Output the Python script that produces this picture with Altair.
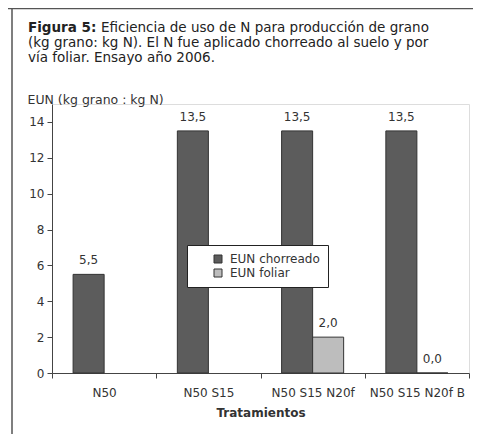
import altair as alt
import pandas as pd

# ---- data ----
categories = ["N50", "N50 S15", "N50 S15 N20f", "N50 S15 N20f B"]
series = ["EUN chorreado", "EUN foliar"]
chorreado = [5.5, 13.5, 13.5, 13.5]
foliar = [None, None, 2.0, 0.0]
y_ticks = [0, 2, 4, 6, 8, 10, 12, 14]

title_bold = "Figura 5:"
title_line1 = "Eficiencia de uso de N para producción de grano"
title_line2 = "(kg grano: kg N). El N fue aplicado chorreado al suelo y por"
title_line3 = "vía foliar. Ensayo año 2006."
y_title = "EUN (kg grano : kg N)"
x_title = "Tratamientos"

rows = []
for c, a, b in zip(categories, chorreado, foliar):
    rows.append({"Tratamiento": c, "Serie": series[0], "Valor": a})
    if b is not None:
        rows.append({"Tratamiento": c, "Serie": series[1], "Valor": b})
df = pd.DataFrame(rows)
df["Etiqueta"] = df["Valor"].map(lambda v: f"{v:.1f}".replace(".", ","))

FONT = "DejaVu Sans"
TXT = "#333333"

x_enc = alt.X(
    "Tratamiento:N", sort=categories,
    scale=alt.Scale(paddingInner=0, paddingOuter=0),
    axis=alt.Axis(title=x_title, labelAngle=0, tickBand="extent", tickSize=5,
                  labelFontSize=12, labelColor=TXT, labelPadding=9, labelLimit=250,
                  titleFontSize=12, titleFontWeight="bold", titleColor=TXT, titlePadding=9,
                  domainColor="#444444", tickColor="#444444", labelFont=FONT, titleFont=FONT),
)
xo_enc = alt.XOffset("Serie:N", sort=series,
                     scale=alt.Scale(paddingInner=0, paddingOuter=0.68))
y_enc = alt.Y(
    "Valor:Q",
    scale=alt.Scale(domain=[0, 15], nice=False),
    axis=alt.Axis(values=y_ticks, title=y_title, titleAngle=0, titleAlign="left",
                  titleBaseline="alphabetic", titleX=-25, titleY=-1,
                  titleFontSize=12.5, titleFontWeight="normal", titleColor=TXT,
                  labelFontSize=12, labelColor=TXT, tickSize=5, labelPadding=3,
                  grid=False, domainColor="#444444", tickColor="#444444",
                  labelFont=FONT, titleFont=FONT),
)

bars = alt.Chart(df).mark_bar(stroke="#333333", strokeWidth=1).encode(
    x=x_enc, xOffset=xo_enc, y=y_enc,
    color=alt.Color("Serie:N", sort=series,
                    scale=alt.Scale(domain=series, range=["#5c5c5c", "#bdbdbd"]),
                    legend=alt.Legend(title=None, orient="none", legendX=135, legendY=141,
                                      fillColor="white", strokeColor="#222222",
                                      padding=8, symbolType="square", symbolSize=64,
                                      symbolStrokeColor="#333333", symbolStrokeWidth=1,
                                      symbolOffset=17, labelOffset=6,
                                      labelExpr="datum.label + '\u2002\u2002\u2002'",
                                      labelFontSize=12, labelColor=TXT,
                                      labelFont=FONT, rowPadding=2)),
)

labels = alt.Chart(df).mark_text(baseline="bottom", dy=-7, fontSize=12, color=TXT, font=FONT).encode(
    x=x_enc, xOffset=xo_enc, y=y_enc, text="Etiqueta:N",
)

def txt(s, x, y, bold=False, size=13.5):
    return alt.Chart(pd.DataFrame({"t": [s]})).mark_text(
        align="left", baseline="alphabetic", fontSize=size, font=FONT,
        fontWeight="bold" if bold else "normal", color="#222222"
    ).encode(text="t:N", x=alt.value(x), y=alt.value(y))

t0 = txt(title_bold, -24, -72, bold=True)
t1 = txt(title_line1, 49, -72)
t2 = txt(title_line2, -24, -57)
t3 = txt(title_line3, -24, -42)

frame = pd.DataFrame({"k": [0]})
left_line = alt.Chart(frame).mark_rule(color="#555555", strokeWidth=1.5).encode(
    x=alt.value(-40), y=alt.value(-96), y2=alt.value(330))
top_line = alt.Chart(frame).mark_rule(color="#555555", strokeWidth=1.5).encode(
    x=alt.value(-44), x2=alt.value(425), y=alt.value(-95.5))

chart = alt.layer(bars, labels, t0, t1, t2, t3, left_line, top_line).properties(
    width=417, height=269,
    autosize=alt.AutoSizeParams(type="none"),
    padding={"left": 44, "top": 96, "right": 4, "bottom": 63},
).configure_view(stroke=None).configure(font=FONT)

chart.save("out.html", embed_options={"renderer": "svg", "actions": False})
